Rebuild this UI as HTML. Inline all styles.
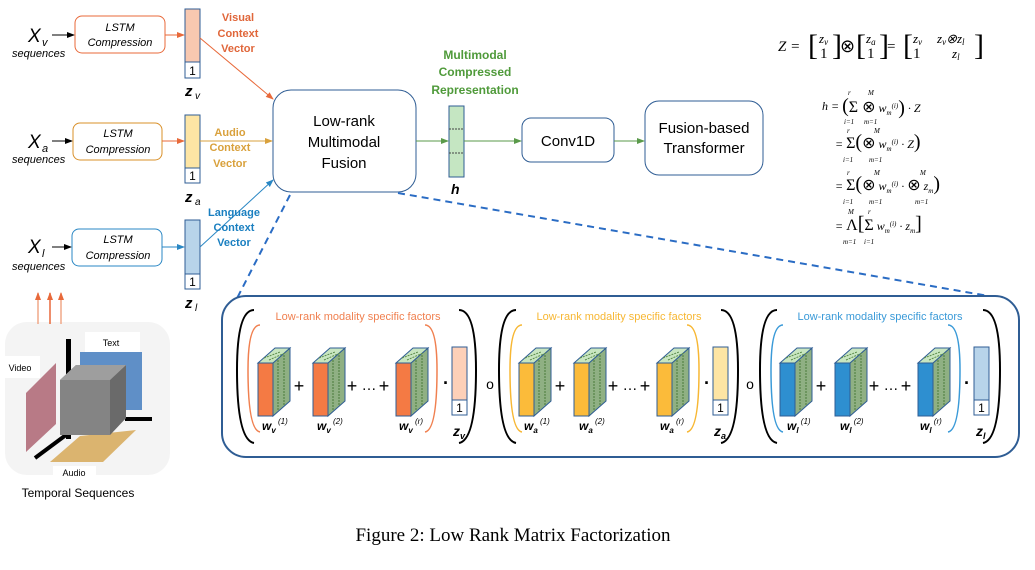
<!DOCTYPE html>
<html><head><meta charset="utf-8"><style>
html,body{margin:0;padding:0;background:#fff;}
svg{display:block;font-family:"Liberation Sans",sans-serif;}
.it{font-style:italic}
.eq{font-family:"Liberation Serif",serif;}
</style></head><body>
<svg width="1035" height="570" viewBox="0 0 1035 570" xmlns="http://www.w3.org/2000/svg">
<defs>
<marker id="ab" markerWidth="8" markerHeight="8" refX="7" refY="4" orient="auto" markerUnits="userSpaceOnUse"><path d="M0,1 L8,4 L0,7z" fill="#000"/></marker>
<marker id="ao" markerWidth="8" markerHeight="8" refX="7" refY="4" orient="auto" markerUnits="userSpaceOnUse"><path d="M0,1 L8,4 L0,7z" fill="#e8693a"/></marker>
<marker id="ay" markerWidth="8" markerHeight="8" refX="7" refY="4" orient="auto" markerUnits="userSpaceOnUse"><path d="M0,1 L8,4 L0,7z" fill="#d9a13c"/></marker>
<marker id="abl" markerWidth="8" markerHeight="8" refX="7" refY="4" orient="auto" markerUnits="userSpaceOnUse"><path d="M0,1 L8,4 L0,7z" fill="#2a87c4"/></marker>
<marker id="ag" markerWidth="8" markerHeight="8" refX="7" refY="4" orient="auto" markerUnits="userSpaceOnUse"><path d="M0,1 L8,4 L0,7z" fill="#5a9a4a"/></marker>
<g id="side">
<path d="M273,363 L290,348 L290,401 L273,416z" fill="#8fb083" stroke="#2f5d94" stroke-width="1"/>
<path d="M258,363 L275,348 L290,348 L273,363z" fill="#c8e6c0" stroke="#2f5d94" stroke-width="1"/>
<path d="M264,358 L280,352 M269,360 L285,353" stroke="#5a8a4a" stroke-dasharray="2,1" fill="none"/>
<path d="M278,360 L278,410 M284,355 L284,405" stroke="#4a7a3a" stroke-dasharray="2,1" fill="none"/>
</g>
</defs>

<!-- Row v -->
<text x="28" y="42" font-size="19" class="it">X</text><text x="42" y="46" font-size="11" class="it">v</text>
<text x="12" y="57" font-size="11" class="it">sequences</text>
<line x1="52" y1="35" x2="74" y2="35" stroke="#000" marker-end="url(#ab)"/>
<rect x="75" y="16" width="90" height="37" rx="7" fill="#fff" stroke="#e8693a"/>
<text x="120" y="31" font-size="11" class="it" text-anchor="middle">LSTM</text>
<text x="120" y="46" font-size="11" class="it" text-anchor="middle">Compression</text>
<line x1="165" y1="35" x2="184" y2="35" stroke="#e8693a" marker-end="url(#ao)"/>
<rect x="185" y="9" width="15" height="53" fill="#f8c8b0" stroke="#2f5d94"/>
<rect x="185" y="62" width="15" height="16" fill="#fff" stroke="#2f5d94"/>
<text x="192.5" y="75" font-size="12" text-anchor="middle">1</text>
<text x="185" y="96" font-size="15" class="it" font-weight="bold">z</text><text x="195" y="99" font-size="10" class="it">v</text>
<g font-size="11" font-weight="bold" fill="#e0663a" text-anchor="middle"><text x="238" y="21">Visual</text><text x="238" y="37">Context</text><text x="238" y="52">Vector</text></g>
<line x1="200" y1="38" x2="273" y2="99" stroke="#e8693a" marker-end="url(#ao)"/>

<!-- Row a -->
<text x="28" y="148" font-size="19" class="it">X</text><text x="42" y="152" font-size="11" class="it">a</text>
<text x="12" y="163" font-size="11" class="it">sequences</text>
<line x1="52" y1="141" x2="72" y2="141" stroke="#000" marker-end="url(#ab)"/>
<rect x="73" y="123" width="89" height="37" rx="7" fill="#fff" stroke="#d9902a"/>
<text x="118" y="137" font-size="11" class="it" text-anchor="middle">LSTM</text>
<text x="118" y="153" font-size="11" class="it" text-anchor="middle">Compression</text>
<line x1="162" y1="141" x2="184" y2="141" stroke="#e8693a" marker-end="url(#ao)"/>
<rect x="185" y="115" width="15" height="53" fill="#fde5a4" stroke="#2f5d94"/>
<rect x="185" y="168" width="15" height="15" fill="#fff" stroke="#2f5d94"/>
<text x="192.5" y="180" font-size="12" text-anchor="middle">1</text>
<text x="185" y="202" font-size="15" class="it" font-weight="bold">z</text><text x="195" y="205" font-size="10" class="it">a</text>
<line x1="200" y1="141" x2="272" y2="141" stroke="#d9a13c" marker-end="url(#ay)"/>
<g font-size="11" font-weight="bold" fill="#d9a13c" text-anchor="middle"><text x="230" y="136">Audio</text><text x="230" y="151">Context</text><text x="230" y="167">Vector</text></g>

<!-- Row l -->
<text x="28" y="253" font-size="19" class="it">X</text><text x="42" y="257" font-size="11" class="it">l</text>
<text x="12" y="270" font-size="11" class="it">sequences</text>
<line x1="52" y1="247" x2="71" y2="247" stroke="#000" marker-end="url(#ab)"/>
<rect x="72" y="229" width="90" height="37" rx="7" fill="#fff" stroke="#2a87c4"/>
<text x="118" y="243" font-size="11" class="it" text-anchor="middle">LSTM</text>
<text x="118" y="259" font-size="11" class="it" text-anchor="middle">Compression</text>
<line x1="162" y1="247" x2="184" y2="247" stroke="#2a87c4" marker-end="url(#abl)"/>
<rect x="185" y="220" width="15" height="54" fill="#b8d4ea" stroke="#2f5d94"/>
<rect x="185" y="274" width="15" height="15" fill="#fff" stroke="#2f5d94"/>
<text x="192.5" y="286" font-size="12" text-anchor="middle">1</text>
<text x="185" y="308" font-size="15" class="it" font-weight="bold">z</text><text x="195" y="311" font-size="10" class="it">l</text>
<line x1="200" y1="247" x2="273" y2="180" stroke="#2a87c4" marker-end="url(#abl)"/>
<g font-size="11" font-weight="bold" fill="#1a7fc0" text-anchor="middle"><text x="234" y="216">Language</text><text x="234" y="231">Context</text><text x="234" y="246">Vector</text></g>

<!-- Fusion -->
<rect x="273" y="90" width="143" height="102" rx="18" fill="#fff" stroke="#2f5d94"/>
<g font-size="15" text-anchor="middle"><text x="344" y="126">Low-rank</text><text x="344" y="147">Multimodal</text><text x="344" y="168">Fusion</text></g>
<line x1="416" y1="141" x2="448" y2="141" stroke="#5a9a4a" marker-end="url(#ag)"/>
<rect x="449" y="106" width="15" height="71" fill="#c5e6c2" stroke="#2f5d94"/>
<path d="M449,129 H464 M449,153 H464" stroke="#444" stroke-dasharray="2,1"/>
<text x="451" y="194" font-size="14" class="it" font-weight="bold">h</text>
<g font-size="12" font-weight="bold" fill="#4f9a3a" text-anchor="middle"><text x="475" y="59">Multimodal</text><text x="475" y="76">Compressed</text><text x="475" y="94">Representation</text></g>
<line x1="464" y1="141" x2="521" y2="141" stroke="#5a9a4a" marker-end="url(#ag)"/>
<rect x="522" y="118" width="92" height="44" rx="9" fill="#fff" stroke="#2f5d94"/>
<text x="568" y="146" font-size="15" text-anchor="middle">Conv1D</text>
<line x1="614" y1="141" x2="644" y2="141" stroke="#5a9a4a" marker-end="url(#ag)"/>
<rect x="645" y="101" width="118" height="74" rx="14" fill="#fff" stroke="#2f5d94"/>
<g font-size="15" text-anchor="middle"><text x="704" y="133">Fusion-based</text><text x="704" y="153">Transformer</text></g>

<!-- equations -->
<g class="eq" font-size="15">
<text x="778" y="51" class="it">Z =</text>
<text x="808" y="55" font-size="30" transform="scale(1,1)">[</text><text x="819" y="43" font-size="13" class="it">z<tspan font-size="9" dy="2">v</tspan></text><text x="820" y="58" font-size="15">1</text><text x="832" y="55" font-size="30">]</text>
<text x="840" y="52" font-size="18">⊗</text>
<text x="856" y="55" font-size="30">[</text><text x="866" y="43" font-size="13" class="it">z<tspan font-size="9" dy="2">a</tspan></text><text x="867" y="58" font-size="15">1</text><text x="879" y="55" font-size="30">]</text>
<text x="887" y="51">=</text>
<text x="903" y="55" font-size="30">[</text><text x="913" y="43" font-size="13" class="it">z<tspan font-size="9" dy="2">v</tspan></text><text x="937" y="43" font-size="13" class="it">z<tspan font-size="9" dy="2">v</tspan><tspan dy="-2">⊗z</tspan><tspan font-size="9" dy="2">l</tspan></text>
<text x="913" y="58" font-size="15">1</text><text x="952" y="58" font-size="13" class="it">z<tspan font-size="9" dy="2">l</tspan></text><text x="974" y="55" font-size="30">]</text>
</g>
<g class="eq" font-size="12">
<text x="822" y="110" class="it">h = <tspan font-size="20" dy="2" font-style="normal">(</tspan><tspan font-size="16" font-style="normal">Σ ⊗</tspan> w<tspan font-size="7" dy="3">m</tspan><tspan font-size="7" dy="-7">(i)</tspan><tspan font-size="20" dy="6" font-style="normal">)</tspan><tspan dy="-2"> · Z</tspan></text>
<text x="835" y="148" class="it">= <tspan font-size="16" font-style="normal">Σ</tspan><tspan font-size="20" font-style="normal">(</tspan><tspan font-size="16" font-style="normal">⊗</tspan> w<tspan font-size="7" dy="3">m</tspan><tspan font-size="7" dy="-7">(i)</tspan><tspan dy="4"> · Z</tspan><tspan font-size="20" font-style="normal">)</tspan></text>
<text x="835" y="190" class="it">= <tspan font-size="16" font-style="normal">Σ</tspan><tspan font-size="20" font-style="normal">(</tspan><tspan font-size="16" font-style="normal">⊗</tspan> w<tspan font-size="7" dy="3">m</tspan><tspan font-size="7" dy="-7">(i)</tspan><tspan dy="4"> · </tspan><tspan font-size="16" font-style="normal">⊗</tspan> z<tspan font-size="7" dy="3">m</tspan><tspan font-size="20" dy="-3" font-style="normal">)</tspan></text>
<text x="835" y="230" class="it">= <tspan font-size="16" font-style="normal">Λ</tspan><tspan font-size="20" font-style="normal">[</tspan><tspan font-size="16" font-style="normal">Σ</tspan> w<tspan font-size="7" dy="3">m</tspan><tspan font-size="7" dy="-7">(i)</tspan><tspan dy="4"> · z</tspan><tspan font-size="7" dy="3">m</tspan><tspan font-size="20" dy="-3" font-style="normal">]</tspan></text>
<g font-size="7" class="it"><text x="848" y="95">r</text><text x="868" y="95">M</text><text x="844" y="124">i=1</text><text x="864" y="124">m=1</text>
<text x="847" y="133">r</text><text x="874" y="133">M</text><text x="843" y="162">i=1</text><text x="869" y="162">m=1</text>
<text x="847" y="175">r</text><text x="874" y="175">M</text><text x="920" y="175">M</text><text x="843" y="204">i=1</text><text x="869" y="204">m=1</text><text x="915" y="204">m=1</text>
<text x="848" y="214">M</text><text x="868" y="214">r</text><text x="843" y="244">m=1</text><text x="864" y="244">i=1</text></g>
</g>

<!-- dashed zoom lines -->
<line x1="290" y1="195" x2="230" y2="312" stroke="#2a6cc4" stroke-width="2" stroke-dasharray="7,5"/>
<line x1="398" y1="193" x2="1000" y2="298" stroke="#2a6cc4" stroke-width="2" stroke-dasharray="7,5"/>

<!-- temporal -->
<rect x="5" y="322" width="165" height="153" rx="22" fill="#f4f4f4"/>
<g stroke-width="1.5" fill="none"><line x1="38" y1="324" x2="38" y2="293" stroke="#f0a888" marker-end="url(#ao)"/><line x1="50" y1="324" x2="50" y2="293" stroke="#e8693a" marker-end="url(#ao)"/><line x1="61" y1="324" x2="61" y2="293" stroke="#f0a888" marker-end="url(#ao)"/></g>
<rect x="85" y="332" width="55" height="20" fill="#fff"/>
<text x="111" y="346" font-size="9" text-anchor="middle">Text</text>
<rect x="5" y="356" width="35" height="22" fill="#fff"/>
<text x="20" y="371" font-size="9" text-anchor="middle">Video</text>
<rect x="80" y="352" width="62" height="58" fill="#5f8fc7"/>
<rect x="66" y="339" width="5" height="100" fill="#000"/>
<line x1="125" y1="419" x2="152" y2="419" stroke="#000" stroke-width="4"/>
<line x1="70" y1="432" x2="35" y2="458" stroke="#000" stroke-width="4"/>
<path d="M26,393 L56,363 L56,424 L26,452z" fill="#b87a86"/>
<path d="M80,436 L136,430 L103,462 L50,462z" fill="#dbb46f"/>
<path d="M60,380 L76,365 L126,365 L126,418 L110,435 L60,435z" fill="#8a8a8a"/>
<path d="M110,380 L126,365 L126,418 L110,435z" fill="#6a6a6a"/>
<path d="M60,380 L76,365 L126,365 L110,380z" fill="#9e9e9e"/>
<rect x="60" y="380" width="50" height="55" fill="#848484"/>
<rect x="53" y="466" width="43" height="14" fill="#fff"/>
<text x="74" y="476" font-size="9" text-anchor="middle">Audio</text>
<text x="78" y="497" font-size="12" text-anchor="middle">Temporal Sequences</text>

<!-- big box -->
<rect x="222" y="296" width="797" height="161" rx="24" fill="#fff" stroke="#2f5d94" stroke-width="2"/>

<!-- group v -->
<path d="M254,310 Q237,310 237,370 Q237,440 254,443" fill="none" stroke="#000" stroke-width="2"/>
<path d="M459,310 Q476,310 476,370 Q476,440 459,443" fill="none" stroke="#000" stroke-width="2"/>
<text x="358" y="320" font-size="11" fill="#f08050" text-anchor="middle">Low-rank modality specific factors</text>
<path d="M260,325 Q248,325 248,370 Q248,430 260,432" fill="none" stroke="#f08050" stroke-width="1.5"/>
<path d="M425,325 Q437,325 437,370 Q437,430 425,432" fill="none" stroke="#f08050" stroke-width="1.5"/>
<g fill="#f47a44" stroke="#2f5d94"><rect x="258" y="363" width="15" height="53"/><rect x="313" y="363" width="15" height="53"/><rect x="396" y="363" width="15" height="53"/></g>
<use href="#side"/><use href="#side" x="55"/><use href="#side" x="138"/>
<g font-size="18" text-anchor="middle"><text x="299" y="392">+</text><text x="352" y="392">+</text><text x="369" y="390" font-size="15">…</text><text x="384" y="392">+</text><text x="446" y="389" font-weight="bold">·</text><text x="490" y="389" font-size="14">o</text></g>
<rect x="452" y="347" width="15" height="53" fill="#fdd0b8" stroke="#2f5d94"/><rect x="452" y="400" width="15" height="15" fill="#fff" stroke="#2f5d94"/><text x="459.5" y="412" font-size="12" text-anchor="middle">1</text>

<!-- group a -->
<path d="M516,310 Q499,310 499,370 Q499,440 516,443" fill="none" stroke="#000" stroke-width="2"/>
<path d="M721,310 Q738,310 738,370 Q738,440 721,443" fill="none" stroke="#000" stroke-width="2"/>
<text x="619" y="320" font-size="11" fill="#f7b733" text-anchor="middle">Low-rank modality specific factors</text>
<path d="M522,325 Q510,325 510,370 Q510,430 522,432" fill="none" stroke="#f7b733" stroke-width="1.5"/>
<path d="M687,325 Q699,325 699,370 Q699,430 687,432" fill="none" stroke="#f7b733" stroke-width="1.5"/>
<g fill="#fbbb3a" stroke="#2f5d94"><rect x="519" y="363" width="15" height="53"/><rect x="574" y="363" width="15" height="53"/><rect x="657" y="363" width="15" height="53"/></g>
<use href="#side" x="261"/><use href="#side" x="316"/><use href="#side" x="399"/>
<g font-size="18" text-anchor="middle"><text x="560" y="392">+</text><text x="613" y="392">+</text><text x="630" y="390" font-size="15">…</text><text x="645" y="392">+</text><text x="707" y="389" font-weight="bold">·</text><text x="750" y="389" font-size="14">o</text></g>
<rect x="713" y="347" width="15" height="53" fill="#fde5a4" stroke="#2f5d94"/><rect x="713" y="400" width="15" height="15" fill="#fff" stroke="#2f5d94"/><text x="720.5" y="412" font-size="12" text-anchor="middle">1</text>

<!-- group l -->
<path d="M777,310 Q760,310 760,370 Q760,440 777,443" fill="none" stroke="#000" stroke-width="2"/>
<path d="M983,310 Q1000,310 1000,370 Q1000,440 983,443" fill="none" stroke="#000" stroke-width="2"/>
<text x="880" y="320" font-size="11" fill="#3a9ad8" text-anchor="middle">Low-rank modality specific factors</text>
<path d="M783,325 Q771,325 771,370 Q771,430 783,432" fill="none" stroke="#3a9ad8" stroke-width="1.5"/>
<path d="M948,325 Q960,325 960,370 Q960,430 948,432" fill="none" stroke="#3a9ad8" stroke-width="1.5"/>
<g fill="#2e8fd0" stroke="#2f5d94"><rect x="780" y="363" width="15" height="53"/><rect x="835" y="363" width="15" height="53"/><rect x="918" y="363" width="15" height="53"/></g>
<use href="#side" x="522"/><use href="#side" x="577"/><use href="#side" x="660"/>
<g font-size="18" text-anchor="middle"><text x="821" y="392">+</text><text x="874" y="392">+</text><text x="891" y="390" font-size="15">…</text><text x="906" y="392">+</text><text x="967" y="389" font-weight="bold">·</text></g>
<rect x="974" y="347" width="15" height="53" fill="#b8d4ea" stroke="#2f5d94"/><rect x="974" y="400" width="15" height="15" fill="#fff" stroke="#2f5d94"/><text x="981.5" y="412" font-size="12" text-anchor="middle">1</text>

<!-- weight labels -->
<g font-size="12" class="it" font-weight="bold">
<text x="262" y="430">w<tspan font-size="8" dy="3">v</tspan><tspan font-size="8" dy="-9" font-weight="normal"> (1)</tspan></text>
<text x="317" y="430">w<tspan font-size="8" dy="3">v</tspan><tspan font-size="8" dy="-9" font-weight="normal"> (2)</tspan></text>
<text x="399" y="430">w<tspan font-size="8" dy="3">v</tspan><tspan font-size="8" dy="-9" font-weight="normal"> (r)</tspan></text>
<text x="524" y="430">w<tspan font-size="8" dy="3">a</tspan><tspan font-size="8" dy="-9" font-weight="normal"> (1)</tspan></text>
<text x="579" y="430">w<tspan font-size="8" dy="3">a</tspan><tspan font-size="8" dy="-9" font-weight="normal"> (2)</tspan></text>
<text x="660" y="430">w<tspan font-size="8" dy="3">a</tspan><tspan font-size="8" dy="-9" font-weight="normal"> (r)</tspan></text>
<text x="787" y="430">w<tspan font-size="8" dy="3">l</tspan><tspan font-size="8" dy="-9" font-weight="normal"> (1)</tspan></text>
<text x="840" y="430">w<tspan font-size="8" dy="3">l</tspan><tspan font-size="8" dy="-9" font-weight="normal"> (2)</tspan></text>
<text x="920" y="430">w<tspan font-size="8" dy="3">l</tspan><tspan font-size="8" dy="-9" font-weight="normal"> (r)</tspan></text>
<text x="453" y="436" font-size="14">z<tspan font-size="9" dy="3">v</tspan></text>
<text x="714" y="436" font-size="14">z<tspan font-size="9" dy="3">a</tspan></text>
<text x="976" y="436" font-size="14">z<tspan font-size="9" dy="3">l</tspan></text>
</g>

<text x="513" y="541" font-size="19" font-family="Liberation Serif, serif" text-anchor="middle">Figure 2: Low Rank Matrix Factorization</text>
</svg>
</body></html>
